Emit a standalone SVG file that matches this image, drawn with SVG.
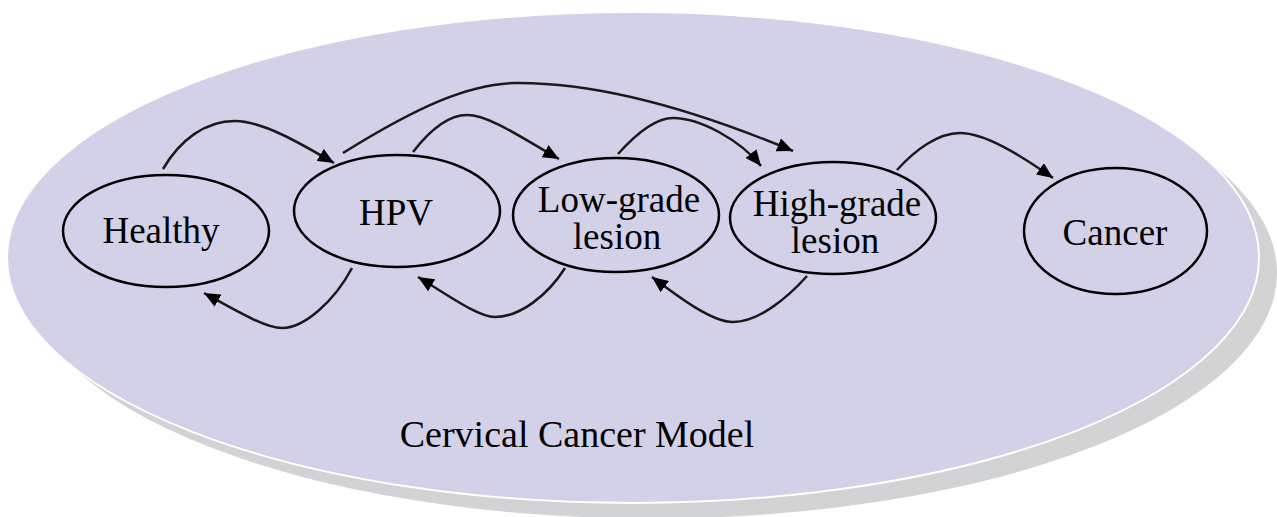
<svg xmlns="http://www.w3.org/2000/svg" width="1277" height="517" viewBox="0 0 1277 517">
<style>
.node ellipse{fill:none;stroke:#000;stroke-width:2.5}
.label{font-family:"Liberation Serif","Times New Roman",serif;font-size:37px;fill:#000;text-anchor:middle}
.title{font-family:"Liberation Serif","Times New Roman",serif;font-size:38px;fill:#000;text-anchor:middle}
.conn path{fill:none;stroke:#1a1a1a;stroke-width:2.5;marker-end:url(#arr)}
</style>
<defs>
<marker id="arr" markerUnits="userSpaceOnUse" markerWidth="17" markerHeight="14" refX="16" refY="7" orient="auto">
<path d="M0,0 L16,7 L0,14 z" fill="#000"/>
</marker>
</defs>
<rect width="1277" height="517" fill="#fff"/>
<g id="background">
<ellipse cx="651" cy="273" rx="626" ry="245.5" fill="#d2d3d5"/>
<ellipse cx="633" cy="257.5" rx="626" ry="245.5" fill="#d3d1e8" stroke="#fff" stroke-width="2"/>
<text class="title" x="577" y="447">Cervical Cancer Model</text>
</g>
<g id="healthy" class="node">
<ellipse cx="166" cy="231" rx="103" ry="56"/>
<text class="label" x="161" y="243">Healthy</text>
</g>
<g id="hpv" class="node">
<ellipse cx="397" cy="211" rx="103" ry="56"/>
<text class="label" x="396" y="225">HPV</text>
</g>
<g id="lowgrade" class="node">
<ellipse cx="616" cy="215" rx="103" ry="57"/>
<text class="label" x="619" y="212">Low-grade</text>
<text class="label" x="617" y="249">lesion</text>
</g>
<g id="highgrade" class="node">
<ellipse cx="833" cy="218" rx="103" ry="56"/>
<text class="label" x="837" y="216">High-grade</text>
<text class="label" x="835" y="253">lesion</text>
</g>
<g id="cancer" class="node">
<ellipse cx="1115.5" cy="231" rx="91.5" ry="63"/>
<text class="label" x="1115" y="245">Cancer</text>
</g>
<g id="connectors" class="conn">
<path d="M163,169 C180,140 205,121 235,121 C262,121 300,143 334,163"/>
<path d="M343,153 C420,105 470,84 515,83 C600,82 700,112 793,151"/>
<path d="M413,152 C430,130 448,115 467,115 C490,115 525,140 559,159"/>
<path d="M618,154 C635,135 655,118 673,118 C700,118 740,140 761,166"/>
<path d="M897,170 C915,150 938,133 960,133 C985,133 1020,155 1053,178"/>
<path d="M352,268 C335,300 305,328 282,328 C265,328 235,310 204,293"/>
<path d="M565,268 C548,295 520,317 495,317 C478,317 448,295 418,277"/>
<path d="M807,276 C790,295 760,322 733,322 C712,322 680,298 652,277"/>
</g>
</svg>
